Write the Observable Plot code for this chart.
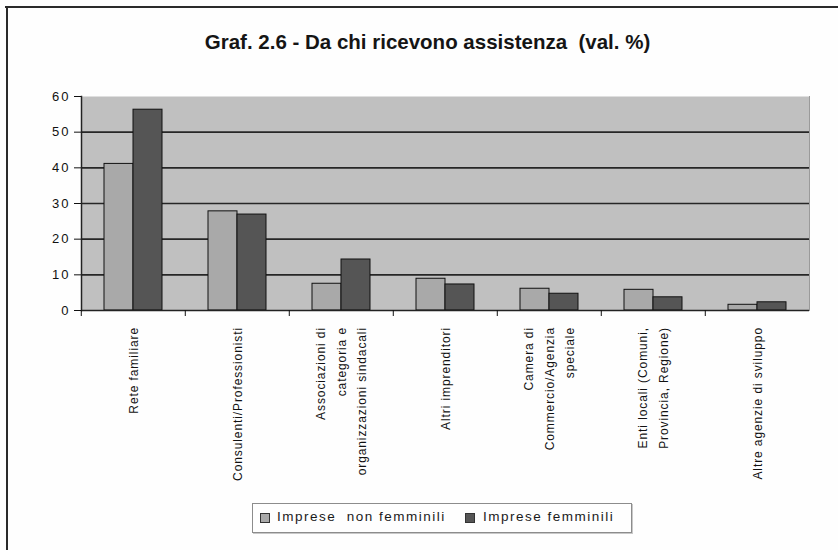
<!DOCTYPE html>
<html>
<head>
<meta charset="utf-8">
<script src="https://cdn.jsdelivr.net/npm/d3@7"></script>
<script src="https://cdn.jsdelivr.net/npm/@observablehq/plot@0.6"></script>
<style>
  html, body { margin: 0; padding: 0; background: #ffffff; }
  #wrap { position: relative; width: 838px; height: 550px; overflow: hidden; background: #fefefe;
          font-family: "Liberation Sans", Arial, sans-serif; color: #111; }
  #bt { position: absolute; left: 5px; top: 6px; width: 833px; height: 2px; background: #2a2a2a; }
  #bl { position: absolute; left: 6px; top: 6px; width: 2px; height: 544px; background: #2a2a2a; }
  #title { position: absolute; left: 0; width: 855px; top: 30px; text-align: center; font-weight: bold;
           font-size: 20.5px; line-height: 24px; white-space: pre; color: #151515; }
  #chart { position: absolute; left: 0; top: 0; }
  #legend { position: absolute; left: 252px; top: 503px; width: 378px; height: 28px;
            border: 1px solid #8c8c8c; box-shadow: 1px 1px 0 #c8c8c8; background: #fefefe; }
  .sw { position: absolute; top: 9px; width: 8px; height: 8px; border: 1px solid #333; }
  .lt { position: absolute; top: 5px; font-size: 13.5px; line-height: 16px; letter-spacing: 1.5px; white-space: pre; color: #1a1a1a; }
  g[aria-label="fx-axis tick label"] text { letter-spacing: 0.9px; }
  g[aria-label="y-axis tick label"] text { letter-spacing: 2px; }
</style>
</head>
<body>
<div id="wrap">
  <div id="bt"></div>
  <div id="bl"></div>
  <div id="chart"></div>
  <div id="title"></div>
  <div id="legend"></div>
</div>
<script>
const titleText = "Graf. 2.6 - Da chi ricevono assistenza  (val. %)";
const categories = [
  "Rete familiare",
  "Consulenti/Professionisti",
  "Associazioni di categoria e organizzazioni sindacali",
  "Altri imprenditori",
  "Camera di Commercio/Agenzia speciale",
  "Enti locali (Comuni, Provincia, Regione)",
  "Altre agenzie di sviluppo"
];
const tickLabels = [
  "Rete familiare",
  "Consulenti/Professionisti",
  "Associazioni di\ncategoria e\norganizzazioni sindacali",
  "Altri imprenditori",
  "Camera di\nCommercio/Agenzia\nspeciale",
  "Enti locali (Comuni,\nProvincia, Regione)",
  "Altre agenzie di sviluppo"
];
const seriesNames = ["Imprese  non femminili", "Imprese femminili"];
const nonFemminili = [41.1, 27.8, 7.5, 8.9, 6.1, 5.8, 1.6];
const femminili = [56.3, 26.9, 14.3, 7.3, 4.7, 3.7, 2.3];
const yTicks = [0, 10, 20, 30, 40, 50, 60];
const seriesColors = ["#a9a9a9", "#555555"];

const rows = categories.flatMap((c, i) => [
  {category: c, series: seriesNames[0], value: nonFemminili[i]},
  {category: c, series: seriesNames[1], value: femminili[i]}
]);
const labelOf = new Map(categories.map((c, i) => [c, tickLabels[i]]));

const W = 838, H = 500, mL = 79, mR = 28;
const step = (W - mL - mR) / categories.length;

const chart = Plot.plot({
  width: W, height: H,
  marginLeft: mL, marginRight: mR, marginTop: 96, marginBottom: 190,
  style: {fontFamily: "Liberation Sans, Arial, sans-serif", background: "transparent", color: "#111", overflow: "visible"},
  fx: {domain: categories, padding: 0, label: null},
  x: {domain: seriesNames, paddingInner: 0, paddingOuter: 0.77, axis: null},
  y: {domain: [0, 60], label: null},
  color: {domain: seriesNames, range: seriesColors},
  marks: [
    Plot.frame({fill: "#c0c0c0", stroke: null, facet: "super"}),
    Plot.gridY(yTicks.filter(t => t > 0 && t < 60), {stroke: "#262626", strokeOpacity: 1, strokeWidth: 1.6}),
    Plot.barY(rows, {fx: "category", x: "series", y: "value", fill: "series", stroke: "#111", strokeWidth: 1}),
    Plot.ruleY([0], {stroke: "#222", strokeWidth: 1.5}),
    Plot.frame({anchor: "left", facet: "super", stroke: "#222", strokeWidth: 1.5}),
    Plot.frame({anchor: "right", facet: "super", stroke: "#9a9a9a"}),
    Plot.axisY(yTicks, {tickSize: 7, tickPadding: 4, fontSize: 13, label: null}),
    Plot.axisFx({anchor: "bottom", tickSize: 6, tickFormat: () => "", dx: -step / 2, label: null}),
    Plot.axisFx({anchor: "bottom", tickSize: 0, tickPadding: 0, tickRotate: -90, fontSize: 12, lineHeight: 1.75,
                 tickFormat: d => labelOf.get(d), label: null})
  ]
});
document.getElementById("chart").append(chart);

// center multi-line rotated tick labels, top-aligned just below the axis
const TOP = 327;
chart.querySelectorAll('g[aria-label="fx-axis tick label"] text').forEach(t => {
  if (!t.textContent.trim()) return;
  const m = t.getCTM();
  const p = t.parentNode.getCTM();
  const bb = t.getBBox();
  const cx = bb.x + bb.width / 2, cy = bb.y + bb.height / 2;
  t.setAttribute("transform",
    `translate(${m.e - p.e},${TOP + bb.width / 2 - p.f}) rotate(-90) translate(${-cx},${-cy})`);
});

document.getElementById("title").textContent = titleText;

// legend
const legend = document.getElementById("legend");
const swLeft = [7, 212], txLeft = [24, 230];
seriesNames.forEach((s, i) => {
  const sw = document.createElement("div");
  sw.className = "sw"; sw.style.left = swLeft[i] + "px"; sw.style.background = seriesColors[i];
  const tx = document.createElement("div");
  tx.className = "lt"; tx.style.left = txLeft[i] + "px"; tx.textContent = s;
  legend.append(sw, tx);
});
</script>
</body>
</html>
